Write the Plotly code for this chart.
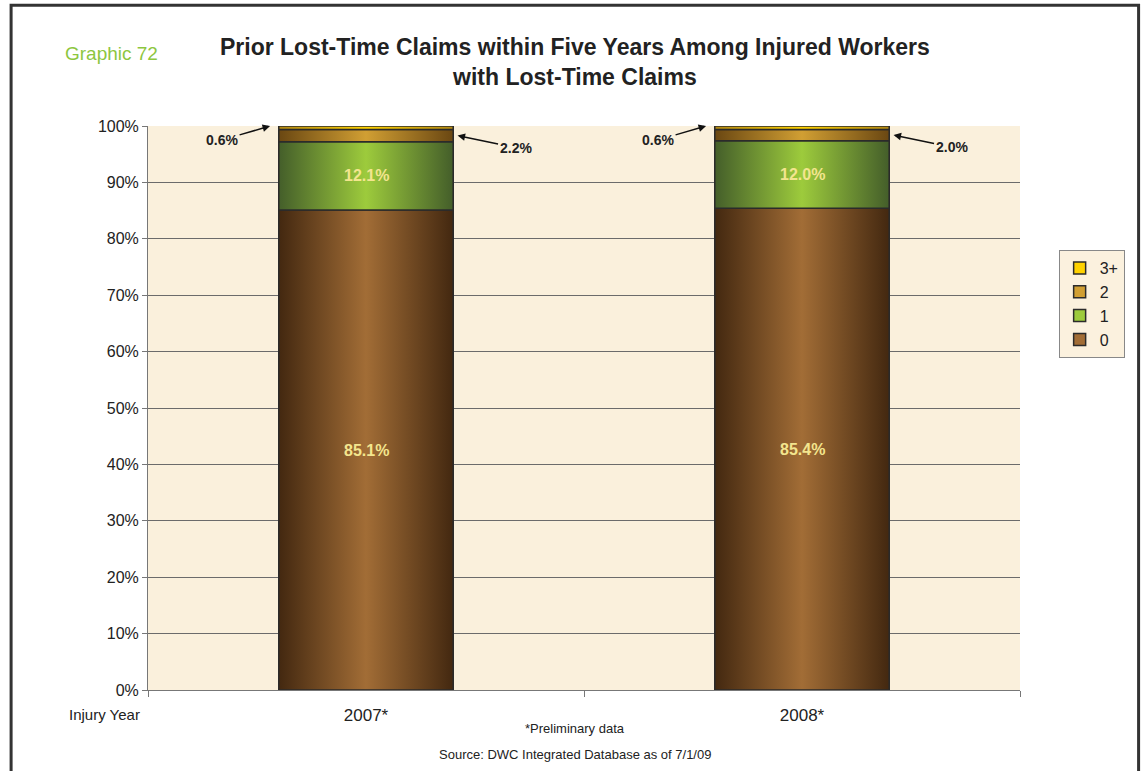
import plotly.graph_objects as go

# Injury years and share of workers by number of prior lost-time claims (%)
years = ['2007*', '2008*']
series = ['0', '1', '2', '3+']
claims_0 = [85.1, 85.4]
claims_1 = [12.1, 12.0]
claims_2 = [2.2, 2.0]
claims_3p = [0.6, 0.6]

values = [claims_0, claims_1, claims_2, claims_3p]

# gradient colours per series (edge, centre)
grad = {
    '0': ('#432810', '#a26d36'),
    '1': ('#445e2a', '#9dcb3c'),
    '2': ('#6a4712', '#d19f33'),
    '3+': ('#b18712', '#ffd200'),
}

bar_w = 0.4
x_pos = list(range(len(years)))
fig = go.Figure()

# plain stacked bars (also give the legend its square keys)
for i, name in enumerate(series):
    edge, mid = grad[name]
    fig.add_trace(go.Bar(
        x=x_pos, y=values[i], width=bar_w, name=name,
        marker=dict(color=mid, line=dict(color='#2b2b2b', width=1.5)),
        legendrank=10 - i, hoverinfo='skip',
    ))

# gradient overlay on each segment
for j in x_pos:
    base = 0
    for i, name in enumerate(series):
        v = values[i][j]
        x0, x1 = j - bar_w / 2, j + bar_w / 2
        edge, mid = grad[name]
        fig.add_trace(go.Scatter(
            x=[x0, x1, x1, x0, x0],
            y=[base, base, base + v, base + v, base],
            fill='toself',
            mode='lines',
            line=dict(color='#2b2b2b', width=1.5),
            fillcolor=mid,
            fillgradient=dict(type='horizontal',
                              colorscale=[[0, edge], [0.5, mid], [1, edge]]),
            showlegend=False,
            hoverinfo='skip',
        ))
        base += v

# labels
for j in x_pos:
    fig.add_annotation(x=j, y=claims_0[j] / 2, text='<b>%.1f%%</b>' % claims_0[j],
                       showarrow=False, font=dict(size=16, color='#f3e58e'))
    fig.add_annotation(x=j, y=claims_0[j] + claims_1[j] / 2, text='<b>%.1f%%</b>' % claims_1[j],
                       showarrow=False, font=dict(size=16, color='#f3e58e'))
    # 3+ arrow to top-left corner
    fig.add_annotation(x=j - bar_w / 2 - 0.02, y=100, text='<b>%.1f%%</b>' % claims_3p[j],
                       showarrow=True, arrowhead=2, arrowsize=1, arrowwidth=1.5,
                       arrowcolor='#111', ax=-48, ay=14,
                       font=dict(size=14, color='#222'))
    # 2 arrow to right edge
    top2 = claims_0[j] + claims_1[j] + claims_2[j] / 2
    fig.add_annotation(x=j + bar_w / 2 + 0.01, y=top2, text='<b>%.1f%%</b>' % claims_2[j],
                       showarrow=True, arrowhead=2, arrowsize=1, arrowwidth=1.5,
                       arrowcolor='#111', ax=58, ay=12,
                       font=dict(size=14, color='#222'))

# titles and notes
notes = dict(xref='paper', yref='paper', showarrow=False, yanchor='middle')
fig.add_annotation(x=0.4897, y=1.1135, xanchor='center', **notes,
                   text='<b>Prior Lost-Time Claims within Five Years Among Injured Workers<br>with Lost-Time Claims</b>',
                   font=dict(size=23, color='#222'), align='center')
fig.add_annotation(x=-0.042, y=1.129, xanchor='center', **notes,
                   text='Graphic 72', font=dict(size=19, color='#8dc63f'))
fig.add_annotation(x=-0.007, y=-0.0443, xanchor='right', **notes,
                   text='Injury Year', font=dict(size=15, color='#222'))
fig.add_annotation(x=0.4897, y=-0.069, xanchor='center', **notes,
                   text='*Preliminary data', font=dict(size=13, color='#222'))
fig.add_annotation(x=0.4897, y=-0.1135, xanchor='center', **notes,
                   text='Source: DWC Integrated Database as of 7/1/09', font=dict(size=13, color='#222'))

# frame around the page
fig.add_shape(type='path', xref='paper', yref='paper',
              path='M -0.157,-0.3 L -0.157,1.214 L 1.136,1.214 L 1.136,-0.3',
              line=dict(color='#333', width=3))

fig.update_layout(
    width=1142, height=771,
    margin=dict(l=148, r=122, t=126, b=81),
    paper_bgcolor='white',
    plot_bgcolor='#faf0dc',
    barmode='stack',
    font=dict(family='Liberation Sans, Arial, sans-serif', color='#222'),
    showlegend=True,
    legend=dict(x=1.12, y=0.78, xanchor='right', yanchor='top',
                bgcolor='#fbf1de', bordercolor='#888', borderwidth=1,
                font=dict(size=16), tracegroupgap=2, itemwidth=30,
                traceorder='normal'),
    xaxis=dict(range=[-0.5, 1.5], tickvals=x_pos, ticktext=years,
               showgrid=False, zeroline=False, showline=True, linecolor='#777',
               ticks='', tickfont=dict(size=17), ticklabelstandoff=10,
               minor=dict(tickvals=[-0.5, 0.5, 1.5], ticks='outside', ticklen=6,
                          tickcolor='#777', showgrid=False)),
    yaxis=dict(range=[0, 100], dtick=10, ticksuffix='%', showgrid=True,
               gridcolor='#6b6b6b', gridwidth=1, zeroline=False,
               showline=True, linecolor='#777', ticks='outside', ticklen=5,
               tickcolor='#777', tickfont=dict(size=16)),
)

fig.write_html("out.html", config={'displayModeBar': False},
               post_script="document.body.style.margin='0';")
